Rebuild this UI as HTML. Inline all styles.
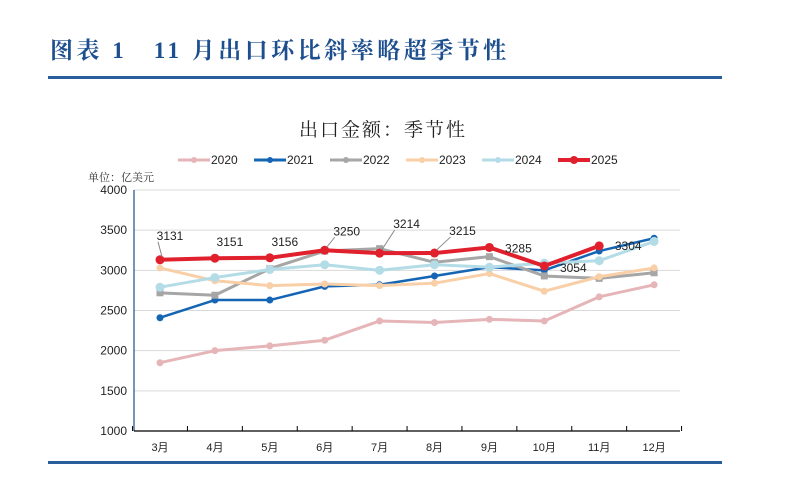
<!DOCTYPE html>
<html><head><meta charset="utf-8"><style>
body{margin:0;background:#fff;}
svg{display:block;}
text{font-family:"Liberation Sans","Noto Sans CJK SC",sans-serif;}
</style></head><body>
<svg id="c" width="798" height="496" viewBox="0 0 798 496">
<text x="50" y="58" font-size="23" font-weight="bold" fill="#1d4f8f" letter-spacing="3.5" style="font-family:'Liberation Serif','Noto Serif CJK SC',serif">图表 1　11 月出口环比斜率略超季节性</text>
<rect x="48" y="76" width="674" height="3" fill="#2a5d9c"/>
<rect x="48" y="461" width="674" height="3" fill="#2a5d9c"/>
<text x="383" y="136" font-size="19" text-anchor="middle" fill="#222" letter-spacing="2" style="font-family:'Noto Serif CJK SC',serif">出口金额：季节性</text>
<text x="88" y="181" font-size="11" fill="#333" style="font-family:'Noto Serif CJK SC',serif">单位：亿美元</text>
<g id="grid"></g><g id="legend"></g><g id="series"></g><g id="labels"></g>
</svg>
<script>
const categories=["3月","4月","5月","6月","7月","8月","9月","10月","11月","12月"];
const years=["2020","2021","2022","2023","2024","2025"];
const s2020=[1850,2000,2060,2130,2370,2350,2390,2370,2670,2820];
const s2021=[2410,2630,2630,2800,2820,2930,3040,3000,3240,3400];
const s2022=[2720,2690,3020,3240,3270,3100,3170,2930,2900,2970];
const s2023=[3030,2870,2810,2830,2810,2840,2960,2740,2920,3030];
const s2024=[2790,2910,3010,3070,3000,3070,3040,3090,3120,3360];
const s2025=[3131,3151,3156,3250,3214,3215,3285,3054,3304];
const yTicks=[1000,1500,2000,2500,3000,3500,4000];
const colors=["#e5b5b8","#1565b5","#a6a6a6","#f8cfa6","#b3dce6","#e0202c"];
const NS="http://www.w3.org/2000/svg";
const X0=160,DX=54.9,Y0=431,Y1=190;
const x=i=>X0+i*DX;
const y=v=>Y0-(v-1000)/3000*(Y0-Y1);
function mk(tag,attrs,parent){const e=document.createElementNS(NS,tag);for(const k in attrs)e.setAttribute(k,attrs[k]);parent.appendChild(e);return e;}
const grid=document.getElementById('grid');
yTicks.forEach(t=>{
  if(t>1000){const l=mk('line',{x1:134,x2:680,y1:y(t),y2:y(t),stroke:'#d9d9d9','stroke-width':1},grid);
  
  }
  const tx=mk('text',{x:127,y:y(t)+4,'font-size':12,'text-anchor':'end',fill:'#222'},grid);tx.textContent=t;
  
  
});
const ya=mk('line',{x1:134,x2:134,y1:Y1,y2:Y0,stroke:'#1f4e8c','stroke-width':1.2},grid);


const xa=mk('line',{x1:134,x2:680,y1:Y0,y2:Y0,stroke:'#000','stroke-width':1.2},grid);


for(let i=0;i<=categories.length;i++){const tk=mk('line',{x1:x(i)-DX/2,x2:x(i)-DX/2,y1:Y0-5,y2:Y0,stroke:'#000'},grid);

}
categories.forEach((c,i)=>{const t=mk('text',{x:x(i),y:Y0+20,'font-size':11,'text-anchor':'middle',fill:'#222'},grid);t.textContent=c;

});
const all=[s2020,s2021,s2022,s2023,s2024,s2025];
const sg=document.getElementById('series');
all.forEach((d,k)=>{
  const big=k==5,w=big?4:(k==1?2.5:3),r=big?4.5:(k==4?4.5:3.5);
  const g=mk('g',{},sg);
  
  
  const p=mk('polyline',{points:d.map((v,i)=>x(i)+','+y(v)).join(' '),fill:'none',stroke:colors[k],'stroke-width':w,'stroke-linejoin':'round'},g);
  
  
  d.forEach((v,i)=>{const m=k==2?mk('rect',{x:x(i)-r,y:y(v)-r,width:2*r,height:2*r,fill:colors[k]},g):mk('circle',{cx:x(i),cy:y(v),r:r,fill:colors[k]},g);
  
  });
});
const lg=document.getElementById('legend');
years.forEach((yr,k)=>{
  const lx=178+k*76;
  const l=mk('line',{x1:lx,x2:lx+32,y1:160,y2:160,stroke:colors[k],'stroke-width':k==5?4:3},lg);
  
  
  const c=mk('circle',{cx:lx+16,cy:160,r:k==5?4:3,fill:colors[k]},lg);
  
  
  const t=mk('text',{x:lx+33,y:164,'font-size':12,fill:'#222'},lg);t.textContent=yr;
  
  
});
const lab=document.getElementById('labels');
const offs=[[10,-20],[15,-12],[15,-12],[22,-15],[27,-25],[28,-18],[29,5],[29,6],[29,4]];
const leaders=[0,3,4,5];
s2025.forEach((v,i)=>{const t=mk('text',{x:x(i)+offs[i][0],y:y(v)+offs[i][1],'font-size':12,'text-anchor':'middle',fill:'#222'},lab);t.textContent=v;


if(leaders.includes(i)){const ln=mk('line',{x1:x(i)+2,y1:y(v)-3,x2:x(i)+offs[i][0]-12,y2:y(v)+offs[i][1]+2,stroke:'#888','stroke-width':1},lab);

}});
</script>
</body></html>
